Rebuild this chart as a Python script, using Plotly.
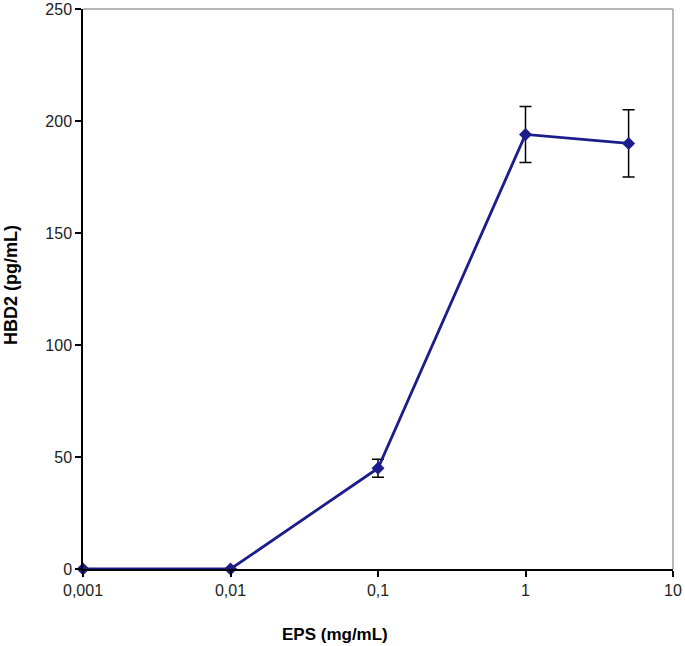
import plotly.graph_objects as go

eps = [0.001, 0.01, 0.1, 1, 5]
hbd2 = [0, 0, 45, 194, 190]
err = [0, 0, 4, 12.5, 15]

x_tickvals = [0.001, 0.01, 0.1, 1, 10]
x_ticktext = ["0,001", "0,01", "0,1", "1", "10"]
y_tickvals = [0, 50, 100, 150, 200, 250]

navy = "#1c1c8a"
FONT = "Arial, Liberation Sans, sans-serif"

L, R, T, B = 83, 673, 9, 569  # plot area in page pixels

fig = go.Figure()
fig.add_trace(go.Scatter(
    x=eps, y=hbd2,
    mode="lines+markers",
    line=dict(color=navy, width=2.8),
    marker=dict(symbol="diamond", size=10, color=navy),
    error_y=dict(type="data", array=err, visible=True, color="black", thickness=1.5, width=6),
    cliponaxis=False,
    showlegend=False,
))

fig.update_layout(
    width=685, height=646,
    margin=dict(l=L, r=685 - R, t=T, b=646 - B),
    paper_bgcolor="white", plot_bgcolor="white",
    font=dict(family=FONT, size=16, color="black"),
    xaxis=dict(
        type="log", range=[-3, 1],
        tickvals=x_tickvals, ticktext=x_ticktext,
        showgrid=False, zeroline=False, automargin=False,
        showline=True, linecolor="black", linewidth=1.5,
        ticks="outside", ticklen=6, tickcolor="black", tickwidth=1.5,
        tickfont=dict(size=16, color="#222"),
    ),
    yaxis=dict(
        range=[0, 250],
        tickvals=y_tickvals,
        showgrid=False, zeroline=False, automargin=False,
        showline=True, linecolor="black", linewidth=1.5,
        ticks="outside", ticklen=6, tickcolor="black", tickwidth=1.5,
        tickfont=dict(size=16, color="#222"),
    ),
    shapes=[
        dict(type="line", xref="paper", yref="paper", x0=0, x1=1, y0=1, y1=1,
             line=dict(color="#a0a0a0", width=1.5)),
        dict(type="line", xref="paper", yref="paper", x0=1, x1=1, y0=0, y1=1,
             line=dict(color="#a0a0a0", width=1.5)),
    ],
    annotations=[
        dict(text="<b>EPS (mg/mL)</b>", xref="paper", yref="paper",
             x=(335 - L) / (R - L), y=-(634 - B) / (B - T),
             xanchor="center", yanchor="middle", showarrow=False,
             font=dict(family=FONT, size=17, color="black")),
        dict(text="<b>HBD2 (pg/mL)</b>", xref="paper", yref="paper",
             x=-(L - 11) / (R - L), y=(B - 285) / (B - T),
             xanchor="center", yanchor="middle", showarrow=False, textangle=-90,
             font=dict(family=FONT, size=18, color="black")),
    ],
)

fig.write_html("out.html", config={"displayModeBar": False},
               post_script="document.body.style.margin='0';")
